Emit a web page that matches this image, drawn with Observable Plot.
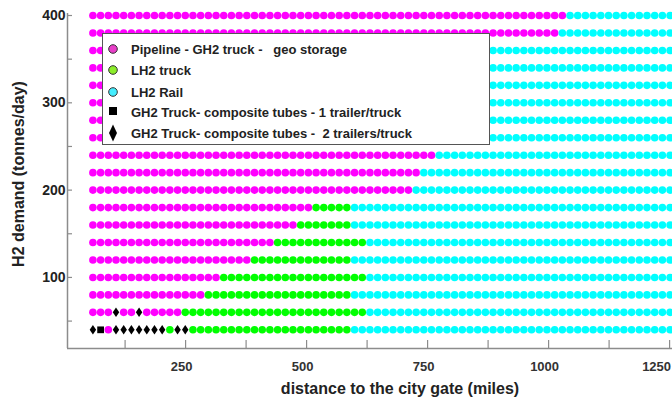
<!DOCTYPE html>
<html><head><meta charset="utf-8">
<script src="https://cdn.jsdelivr.net/npm/d3@7"></script>
<script src="https://cdn.jsdelivr.net/npm/@observablehq/plot@0.6"></script>
<style>
body{margin:0;background:#fff;}
#wrap{position:relative;width:672px;height:403px;overflow:hidden;background:#fff;}
#legend{position:absolute;left:102px;top:33px;width:386px;height:110px;background:#fff;border:1.5px solid #555;font:bold 13px "Liberation Sans",Arial,sans-serif;color:#222;}
.item{position:absolute;left:0;height:20px;display:flex;align-items:center;white-space:pre;}
.item svg{width:20px;height:20px;margin-left:0px;margin-right:8px;overflow:visible;}
</style></head><body><div id="wrap"></div>
<script>
// H2 demand rows (tonnes/day)
const demandRows = [400, 380, 360, 340, 320, 300, 280, 260, 240, 220, 200, 180, 160, 140, 120, 100, 80, 60, 40];
// distance (miles) where the pipeline option stops being chosen, per row
const pipelineEnd = [1035, 1021, 860, 850, 830, 820, 800, 790, 771, 740, 725, 506, 475, 428, 378, 328, 285, 242, 100];
// distance (miles) where LH2 truck gives way to LH2 rail, per row
const lh2TruckEnd = [1035, 1021, 860, 850, 830, 820, 800, 790, 771, 740, 725, 585, 585, 616, 599, 616, 585, 628, 599];
// GH2 tube trailer points (demand, distance)
const oneTrailerDemand = [40];
const oneTrailerDist = [74];
const twoTrailerDemand = [60, 60, 40, 40, 40, 40, 40, 40, 40, 40, 40, 40];
const twoTrailerDist = [106, 154, 58, 106, 122, 138, 154, 170, 186, 202, 233, 249];
// distance sampling grid of the scenario runs
const gridStart = 58.5, gridStep = 15.9, gridCount = 76;

const modes = ["Pipeline - GH2 truck -   geo storage", "LH2 truck", "LH2 Rail",
  "GH2 Truck- composite tubes - 1 trailer/truck", "GH2 Truck- composite tubes -  2 trailers/truck"];
const modeColors = ["#ff00ff", "#00ff00", "#00ffff", "#000000", "#000000"];
const legendFill = ["#e83ec8", "#8ced2a", "#44eeff", "#000", "#000"];

const xTicks = [125, 250, 375, 500, 625, 750, 875, 1000, 1125, 1250];
const xTickLabels = [250, 500, 750, 1000, 1250];
const yTicks = [50, 100, 150, 200, 250, 300, 350, 400];
const yTickLabels = [100, 200, 300, 400];
const xDomain = [6, 1256];
const yDomain = [18.6, 402.3];

const data = [];
demandRows.forEach((dm, r) => {
  for (let i = 0; i < gridCount; i++) {
    const d = gridStart + gridStep * i;
    let mode = d < pipelineEnd[r] ? modes[0] : d < lh2TruckEnd[r] ? modes[1] : modes[2];
    oneTrailerDemand.forEach((od, k) => { if (od === dm && Math.abs(oneTrailerDist[k] - d) < gridStep / 2) mode = modes[3]; });
    twoTrailerDemand.forEach((od, k) => { if (od === dm && Math.abs(twoTrailerDist[k] - d) < gridStep / 2) mode = modes[4]; });
    data.push({distance: d, demand: dm, mode});
  }
});

const narrowDiamond = {draw(ctx, size) {
  const r = Math.sqrt(size / Math.PI), w = r * 0.85, h = r * 1.25;
  ctx.moveTo(0, -h); ctx.lineTo(w, 0); ctx.lineTo(0, h); ctx.lineTo(-w, 0); ctx.closePath();
}};

const W = 672, H = 403, mL = 67, mR = 0, mT = 13, mB = 55;
const fw = W - mL - mR, fh = H - mT - mB;
const font = "Liberation Sans, Arial, sans-serif";
const lastLabel = xTickLabels[xTickLabels.length - 1];

const chart = Plot.plot({
  width: W, height: H,
  marginLeft: mL, marginRight: mR, marginTop: mT, marginBottom: mB,
  x: {domain: xDomain, axis: null},
  y: {domain: yDomain, axis: null},
  color: {domain: modes, range: modeColors},
  symbol: {domain: modes, range: [d3.symbolCircle, d3.symbolCircle, d3.symbolCircle, d3.symbolSquare, narrowDiamond]},
  style: {fontFamily: font, background: "#fff", color: "#222", overflow: "visible"},
  marks: [
    Plot.dot(data, {x: "distance", y: "demand", fill: "mode", symbol: "mode", r: 3.8}),
    Plot.ruleX([xDomain[0]], {stroke: "#8c8c8c", strokeWidth: 1.5}),
    Plot.ruleY([yDomain[0]], {stroke: "#8c8c8c", strokeWidth: 1.5}),
    Plot.tickX(xTicks, {x: d => d, insetTop: fh - 8, stroke: "#8c8c8c", strokeWidth: 1.2}),
    Plot.tickY(yTicks, {y: d => d, insetRight: fw - 5, stroke: "#8c8c8c", strokeWidth: 1.2}),
    Plot.text(xTickLabels.filter(d => d !== lastLabel), {x: d => d, text: d => String(d), frameAnchor: "bottom", lineAnchor: "middle", dy: 18, dx: -4, fontSize: 13, fontWeight: "bold", fill: "#333"}),
    Plot.text([lastLabel], {x: d => d, text: d => String(d), frameAnchor: "bottom", lineAnchor: "middle", dy: 18, dx: -13, fontSize: 13, fontWeight: "bold", fill: "#333"}),
    Plot.text(yTickLabels, {y: d => d, text: d => String(d), frameAnchor: "left", textAnchor: "end", dx: -2, fontSize: 14, fontWeight: "bold", fill: "#222"}),
    Plot.text(["distance to the city gate (miles)"], {frameAnchor: "bottom", lineAnchor: "middle", dx: 30, dy: 40, fontSize: 16, fontWeight: "bold", fill: "#222"}),
    Plot.text(["H2 demand (tonnes/day)"], {frameAnchor: "left", textAnchor: "middle", rotate: -90, dx: -49, dy: -7, fontSize: 16, fontWeight: "bold", fill: "#222"})
  ]
});

const wrap = document.getElementById("wrap");
wrap.appendChild(chart);

// legend box over the plot
const legend = document.createElement("div");
legend.id = "legend";
const rowTops = [5, 26, 48, 68, 89];
modes.forEach((m, i) => {
  const it = document.createElement("div");
  it.className = "item";
  it.style.top = rowTops[i] + "px";
  it.style.left = "0px";
  let shape;
  if (i < 3) shape = `<circle cx="10" cy="10" r="4.3" fill="${legendFill[i]}" stroke="#333" stroke-width="1"/>`;
  else if (i === 3) shape = `<rect x="6" y="5" width="8" height="8" fill="#000"/>`;
  else shape = `<path d="M10,1.5 L14,10 L10,18.5 L6,10 Z" fill="#000"/>`;
  it.innerHTML = `<svg viewBox="0 0 20 20">${shape}</svg><span>${m}</span>`;
  legend.appendChild(it);
});
wrap.appendChild(legend);
</script>
</body></html>
